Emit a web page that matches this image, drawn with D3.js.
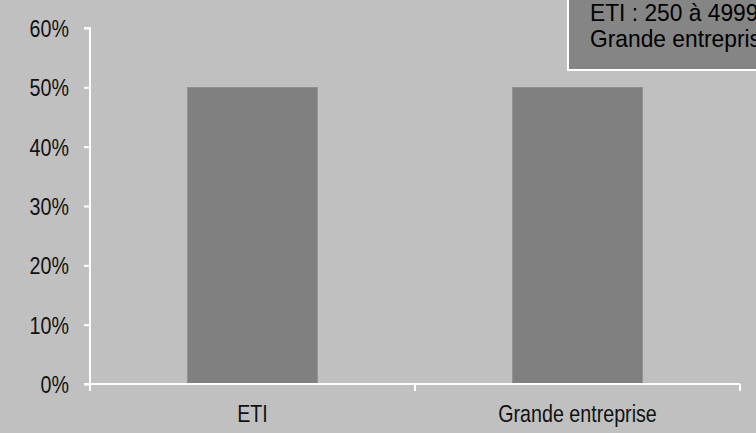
<!DOCTYPE html>
<html>
<head>
<meta charset="utf-8">
<script src="https://cdn.jsdelivr.net/npm/d3@7"></script>
<style>
  html, body { margin: 0; padding: 0; background: #c0c0c0; overflow: hidden; }
  svg { display: block; }
  text { font-family: "Liberation Sans Narrow", "Arial Narrow", "Liberation Sans", Arial, sans-serif; }
</style>
</head>
<body>
<svg id="chart" width="756" height="433"></svg>
<script>
const categories = ["ETI", "Grande entreprise"];
const values = [0.5, 0.5];
const yTicks = [0, 0.1, 0.2, 0.3, 0.4, 0.5, 0.6];
const legendLines = ["ETI : 250 à 4999 salariés", "Grande entreprise : 5000 salariés et plus"];

const W = 756, H = 433;
const margin = { left: 90, right: 16, top: 28, bottom: 49 };
const NARROW = 0.82;
const svg = d3.select("#chart");
svg.append("rect").attr("width", W).attr("height", H).attr("fill", "#c0c0c0");

const x = d3.scaleBand().domain(categories)
  .range([margin.left, W - margin.right])
  .paddingInner(0.6).paddingOuter(0.3);
const y = d3.scaleLinear().domain([0, 0.6]).range([H - margin.bottom, margin.top]);

// place a text at (px,py) with horizontal compression (Arial Narrow look)
function narrowAt(sel, px, py, k) {
  sel.attr("x", 0).attr("y", 0)
    .attr("transform", function(d, i) {
      const xx = typeof px === "function" ? px(d, i) : px;
      const yy = typeof py === "function" ? py(d, i) : py;
      return `translate(${xx},${yy}) scale(${k || NARROW},1)`;
    });
}

// bars
svg.append("g").selectAll("rect").data(categories).join("rect")
  .attr("x", d => x(d))
  .attr("y", (d, i) => y(values[i]))
  .attr("width", x.bandwidth())
  .attr("height", (d, i) => y(0) - y(values[i]))
  .attr("fill", "#808080")
  .attr("stroke", "#8a8a8a").attr("stroke-width", 0.6);

// y axis
const yAxis = d3.axisLeft(y).tickValues(yTicks).tickFormat(d3.format(".0%")).tickSize(6).tickPadding(15);
const gy = svg.append("g").attr("transform", `translate(${margin.left},0)`).call(yAxis);
gy.attr("font-family", null).attr("font-size", null);
gy.select(".domain").attr("stroke", "#fff").attr("stroke-width", 2).attr("d", `M-6,${y(0.6)}H0V${y(0)}`);
gy.selectAll(".tick line").attr("stroke", "#fff").attr("stroke-width", 2);
const yt = gy.selectAll(".tick text").attr("fill", "#111").attr("font-size", 24).attr("dy", "0.35em");
narrowAt(yt, -21, 0);

// x axis
const step = x.step();
const xStart = margin.left, xEnd = W - margin.right;
const gx = svg.append("g").attr("transform", `translate(0,${y(0)})`);
gx.append("path").attr("d", `M${xStart - 6},0H${xEnd}`).attr("stroke", "#fff").attr("stroke-width", 2).attr("fill", "none");
const boundaries = d3.range(categories.length + 1).map(i => xStart + i * step);
gx.selectAll("line.b").data(boundaries).join("line").attr("class", "b")
  .attr("x1", d => d).attr("x2", d => d).attr("y1", 0).attr("y2", 7)
  .attr("stroke", "#fff").attr("stroke-width", 2);
const xt = gx.selectAll("text").data(categories).join("text")
  .attr("text-anchor", "middle").attr("font-size", 24).attr("fill", "#111")
  .text(d => d);
narrowAt(xt, d => x(d) + x.bandwidth() / 2, 38);

// legend box
const lg = svg.append("g");
lg.append("rect").attr("x", 568).attr("y", -40).attr("width", 260).attr("height", 110)
  .attr("fill", "#858585").attr("stroke", "#fff").attr("stroke-width", 2);
const lt = lg.selectAll("text").data(legendLines).join("text")
  .attr("font-size", 24).attr("fill", "#000").text(d => d);
narrowAt(lt, 590, (d, i) => 21 + i * 26, 0.95);
</script>
</body>
</html>
